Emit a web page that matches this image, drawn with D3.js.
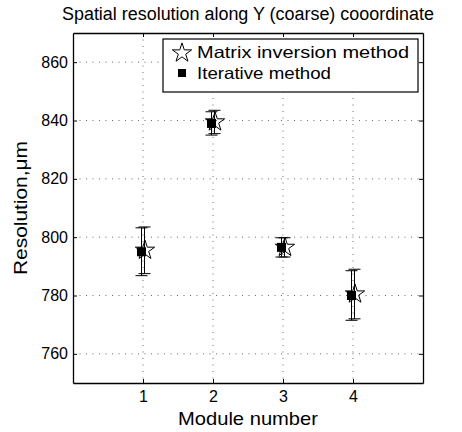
<!DOCTYPE html>
<html>
<head>
<meta charset="utf-8">
<script src="https://cdn.jsdelivr.net/npm/d3@7"></script>
<style>
body{margin:0;background:#fff;}
text{font-family:"Liberation Sans",Arial,sans-serif;fill:#000;}
</style>
</head>
<body>
<svg id="chart"></svg>
<script>
var modules=[1,2,3,4];
var matrixRes=[795.5,839.5,796.5,780.5];
var matrixErr=[8,4,3.3,8.5];
var iterRes=[795,839,796.5,780];
var iterErr=[8.2,4,3.3,8.5];
var xTicks=[1,2,3,4];
var yTicks=[760,780,800,820,840,860];

var w=462;
var h=432;
var margin={left:73,right:39,top:33,bottom:49};

var svg=d3.select("#chart")
          .attr("width",w)
          .attr("height",h);

var xScale=d3.scaleLinear()
             .domain([0,5])
             .range([margin.left,w-margin.right]);
var yScale=d3.scaleLinear()
             .domain([750,870])
             .range([h-margin.bottom,margin.top]);

// grid
svg.append("g")
   .selectAll("line")
   .data(xTicks)
   .enter()
   .append("line")
   .attr("x1",function(d){return xScale(d);})
   .attr("x2",function(d){return xScale(d);})
   .attr("y1",margin.top)
   .attr("y2",h-margin.bottom)
   .attr("stroke","#444")
   .attr("stroke-width",0.8)
   .attr("stroke-dasharray","1,5.5");
svg.append("g")
   .selectAll("line")
   .data(yTicks)
   .enter()
   .append("line")
   .attr("x1",margin.left)
   .attr("x2",w-margin.right)
   .attr("y1",function(d){return yScale(d);})
   .attr("y2",function(d){return yScale(d);})
   .attr("stroke","#444")
   .attr("stroke-width",0.8)
   .attr("stroke-dasharray","1,5.5");

// axes, ticks inside
var xAxis=d3.axisBottom(xScale).tickValues(xTicks).tickFormat(d3.format("d")).tickSizeInner(-4).tickSizeOuter(0).tickPadding(8);
var yAxis=d3.axisLeft(yScale).tickValues(yTicks).tickFormat(d3.format("d")).tickSizeInner(-4).tickSizeOuter(0).tickPadding(5);
var xTop=d3.axisTop(xScale).tickValues(xTicks).tickSizeInner(-4).tickSizeOuter(0).tickFormat("");
var yRight=d3.axisRight(yScale).tickValues(yTicks).tickSizeInner(-4).tickSizeOuter(0).tickFormat("");

svg.append("g")
   .attr("transform","translate(0,"+(h-margin.bottom)+")")
   .call(xAxis);
svg.append("g")
   .attr("transform","translate("+margin.left+",0)")
   .call(yAxis);
svg.append("g")
   .attr("transform","translate(0,"+margin.top+")")
   .call(xTop);
svg.append("g")
   .attr("transform","translate("+(w-margin.right)+",0)")
   .call(yRight);
svg.selectAll(".domain").attr("stroke","#000").attr("stroke-width",1.3);
svg.selectAll(".tick line").attr("stroke","#000");
svg.selectAll(".tick text").style("font-size","16px").style("font-family","Liberation Sans,Arial,sans-serif");

// error bars
function errorBars(vals,errs,dx){
  var g=svg.append("g");
  modules.forEach(function(m,i){
    var x=xScale(m)+dx;
    var y1=yScale(vals[i]+errs[i]);
    var y2=yScale(vals[i]-errs[i]);
    g.append("line").attr("x1",x).attr("x2",x).attr("y1",y1).attr("y2",y2)
     .attr("stroke","#000").attr("stroke-width",1);
    [y1,y2].forEach(function(y){
      g.append("line").attr("x1",x-6).attr("x2",x+6).attr("y1",y).attr("y2",y)
       .attr("stroke","#000").attr("stroke-width",1);
    });
  });
}
errorBars(iterRes,iterErr,-1.5);
errorBars(matrixRes,matrixErr,1.5);

var star=d3.symbol().type(d3.symbolStar).size(115);

svg.append("g")
   .selectAll("path")
   .data(modules)
   .enter()
   .append("path")
   .attr("d",star)
   .attr("transform",function(d,i){return "translate("+(xScale(d)+2)+","+yScale(matrixRes[i])+")";})
   .attr("fill","none")
   .attr("stroke","#000")
   .attr("stroke-width",1);

svg.append("g")
   .selectAll("rect")
   .data(modules)
   .enter()
   .append("rect")
   .attr("x",function(d){return xScale(d)-1.5-4.5;})
   .attr("y",function(d,i){return yScale(iterRes[i])-4.5;})
   .attr("width",9)
   .attr("height",9)
   .attr("fill","#000");

// legend
var lg=svg.append("g");
lg.append("rect")
  .attr("x",163).attr("y",39).attr("width",255).attr("height",53)
  .attr("fill","#fff").attr("stroke","#000").attr("stroke-width",1.2);
lg.append("path")
  .attr("d",star)
  .attr("transform","translate(182,53)")
  .attr("fill","none").attr("stroke","#000");
lg.append("rect")
  .attr("x",178).attr("y",69).attr("width",8).attr("height",8).attr("fill","#000");
lg.append("text").attr("x",197).attr("y",58).style("font-size","16.5px")
  .attr("textLength",212).attr("lengthAdjust","spacingAndGlyphs").text("Matrix inversion method");
lg.append("text").attr("x",197).attr("y",79).style("font-size","16.5px")
  .attr("textLength",134).attr("lengthAdjust","spacingAndGlyphs").text("Iterative method");

// titles
svg.append("text")
   .attr("x",(margin.left+w-margin.right)/2)
   .attr("y",20)
   .attr("text-anchor","middle")
   .style("font-size","18px")
   .attr("textLength",372).attr("lengthAdjust","spacingAndGlyphs")
   .text("Spatial resolution along Y (coarse) cooordinate");
svg.append("text")
   .attr("x",(margin.left+w-margin.right)/2)
   .attr("y",425)
   .attr("text-anchor","middle")
   .style("font-size","19px")
   .attr("textLength",140).attr("lengthAdjust","spacingAndGlyphs")
   .text("Module number");
svg.append("text")
   .attr("transform","translate(27,"+((margin.top+h-margin.bottom)/2)+") rotate(-90)")
   .attr("text-anchor","middle")
   .style("font-size","18px")
   .attr("textLength",134).attr("lengthAdjust","spacingAndGlyphs")
   .text("Resolution,μm");
</script>
</body>
</html>
